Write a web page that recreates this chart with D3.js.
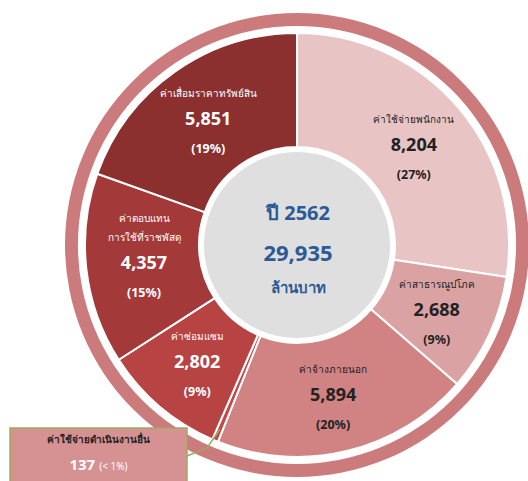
<!DOCTYPE html>
<html><head><meta charset="utf-8">
<script src="https://cdn.jsdelivr.net/npm/d3@7"></script>
<style>
html,body{margin:0;padding:0;background:#fff;}
svg{display:block;font-family:"Noto Sans","Open Sans",sans-serif;}
</style></head>
<body>
<svg id="c" width="528" height="481"></svg>
<script>
const categories = ["ค่าใช้จ่ายพนักงาน","ค่าสาธารณูปโภค","ค่าจ้างภายนอก","ค่าใช้จ่ายดำเนินงานอื่น","ค่าซ่อมแซม","ค่าตอบแทน\nการใช้ที่ราชพัสดุ","ค่าเสื่อมราคาทรัพย์สิน"];
const values = [8204, 2688, 5894, 137, 2802, 4357, 5851];
const valueLabels = ["8,204","2,688","5,894","137","2,802","4,357","5,851"];
const pctLabels = ["(27%)","(9%)","(20%)","(< 1%)","(9%)","(15%)","(19%)"];
const colors = ["#e8c4c5","#dba2a3","#d18283","#c44a4a","#b74343","#a43939","#8b2f2f"];
const textColors = ["#222","#222","#222","#fff","#fff","#fff","#fff"];
const centerLines = ["ปี 2562","29,935","ล้านบาท"];

const svg = d3.select("#c");
const cx = 297, cy = 245;
const g = svg.append("g").attr("transform",`translate(${cx},${cy})`);

// outer ring
g.append("path")
  .attr("d", d3.arc()({innerRadius:219, outerRadius:232, startAngle:0, endAngle:2*Math.PI}))
  .attr("fill","#cc7b7d");

const pie = d3.pie().sort(null).value(d=>d);
const arcs = pie(values);
const arc = d3.arc().innerRadius(98).outerRadius(212);
g.selectAll("path.slice").data(arcs).enter().append("path")
  .attr("class","slice")
  .attr("d", arc)
  .attr("fill",(d,i)=>colors[i])
  .attr("stroke","#fff").attr("stroke-width",2).attr("stroke-linejoin","round");

// center disc
g.append("circle").attr("r",98).attr("fill","#fff");
g.append("circle").attr("r",93).attr("fill","#dfdfdf");
const cY = [-25, 16, 48], cS = [20, 22, 15];
centerLines.forEach((t,i)=>{
  g.append("text").attr("x",1).attr("y",cY[i]).attr("text-anchor","middle")
   .attr("font-size",cS[i]).attr("font-weight","bold").attr("fill","#2b5a96").text(t);
});

// labels
const labelArc = d3.arc().innerRadius(98).outerRadius(210);
arcs.forEach((d,i)=>{
  if (i===3) return;
  const [x,y] = labelArc.centroid(d);
  const lines = categories[i].split("\n");
  const lg = g.append("g").attr("transform",`translate(${x},${y})`).attr("fill",textColors[i]).attr("text-anchor","middle");
  const top = -22 - (lines.length-1)*19;
  lines.forEach((l,k)=>{
    lg.append("text").attr("y",top + k*19).attr("font-size",10).text(l);
  });
  lg.append("text").attr("y",top + (lines.length-1)*19 + 28).attr("font-size",18).attr("font-weight","bold").text(valueLabels[i]);
  lg.append("text").attr("y",top + (lines.length-1)*19 + 56).attr("font-size",12.5).attr("font-weight","bold").text(pctLabels[i]);
});

// callout for small slice
const small = arcs[3];
const pArc = d3.arc().innerRadius(200).outerRadius(200);
const [sx,sy] = pArc.centroid(small);
const box = {x:10-cx, y:428-cy, w:177, h:60};
g.append("rect").attr("x",box.x).attr("y",box.y).attr("width",box.w).attr("height",box.h)
  .attr("fill","#d69192").attr("stroke","#9aab5e").attr("stroke-width",1.5);
g.append("polyline")
  .attr("points",[[sx, sy],[207-cx,448-cy],[box.x+box.w,456-cy]].map(p=>p.join(",")).join(" "))
  .attr("fill","none").attr("stroke","#9aab5e").attr("stroke-width",1.5);
g.append("text").attr("x",box.x+box.w/2).attr("y",box.y+15).attr("text-anchor","middle")
  .attr("font-size",10).attr("font-weight","bold").attr("fill","#222").text(categories[3]);
const t2 = g.append("text").attr("x",box.x+box.w/2).attr("y",box.y+42).attr("text-anchor","middle").attr("fill","#fff");
t2.append("tspan").attr("font-size",15).attr("font-weight","bold").text(valueLabels[3]);
t2.append("tspan").attr("font-size",10).attr("dx",4).text(pctLabels[3]);
</script>
</body></html>
